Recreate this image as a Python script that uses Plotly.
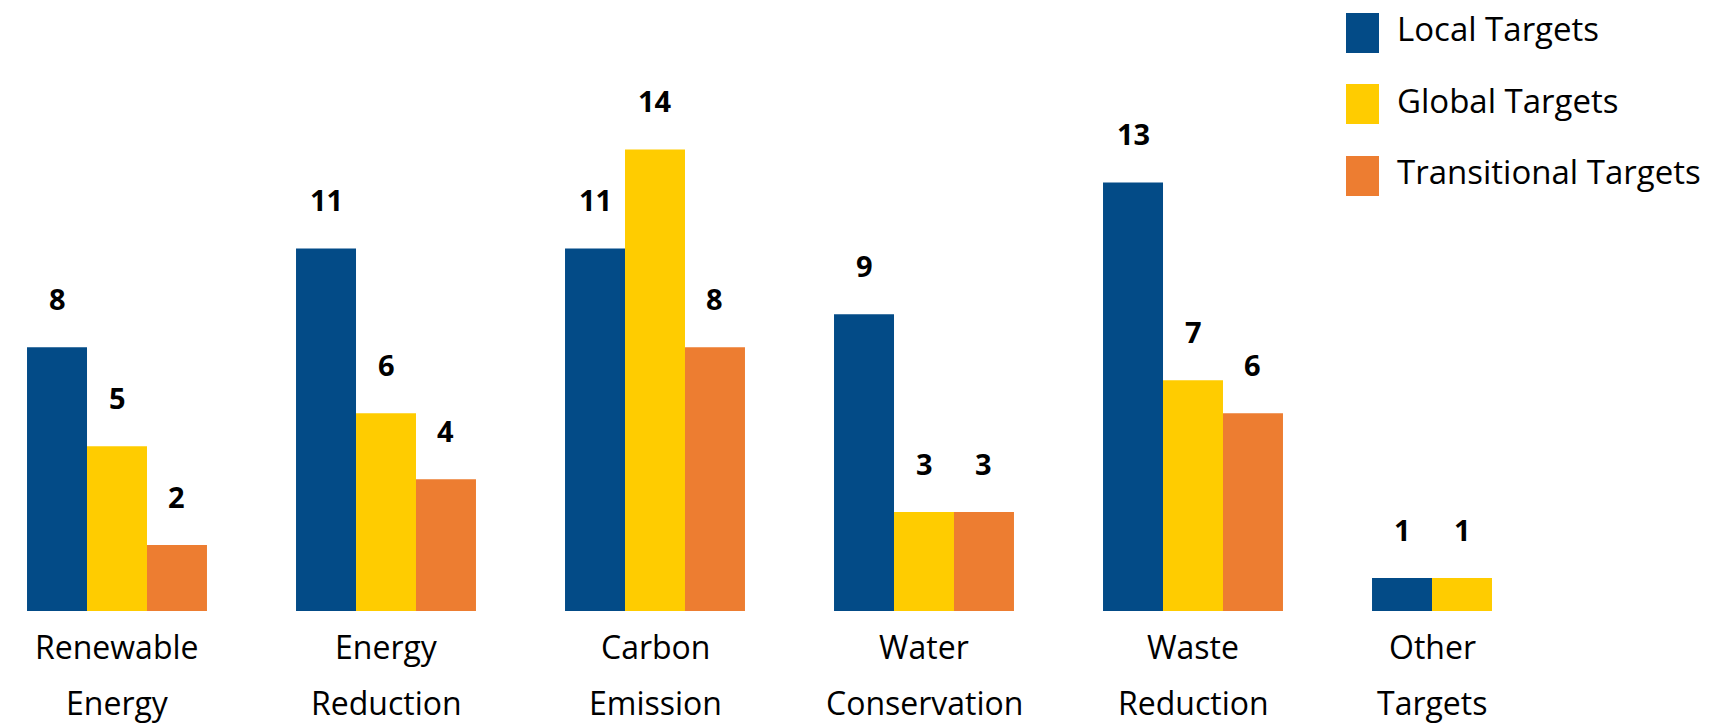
import plotly.graph_objects as go

categories = ["Renewable Energy", "Energy Reduction", "Carbon Emission",
              "Water Conservation", "Waste Reduction", "Other Targets"]
series_names = ["Local Targets", "Global Targets", "Transitional Targets"]
local_vals = [8, 11, 11, 9, 13, 1]
global_vals = [5, 6, 14, 3, 7, 1]
transitional_vals = [2, 4, 8, 3, 6, None]
colors = ["#034B87", "#FFCC00", "#ED7D31"]

W, H = 1717, 725
PLOT_H = 611
BARGAP = 0.331
FONT = "Open Sans"

series_vals = [local_vals, global_vals, transitional_vals]

fig = go.Figure()
for name, vals, col in zip(series_names, series_vals, colors):
    fig.add_trace(go.Bar(x=categories, y=vals, name=name, marker_color=col,
                         marker_line_width=0, showlegend=False))

bar_w = (1 - BARGAP) / len(series_vals)
annotations = []
# value labels
for i, vals in enumerate(series_vals):
    for j, v in enumerate(vals):
        if v is None:
            continue
        annotations.append(dict(x=j + (i - 1) * bar_w, y=v, xref="x", yref="y",
                                text=f"<b>{v}</b>", showarrow=False, yshift=49,
                                yanchor="middle", xanchor="center",
                                font=dict(family=FONT, size=29, color="#000")))
# category labels (two lines)
for j, cat in enumerate(categories):
    line1, line2 = cat.split(" ", 1)
    n_present = sum(1 for vals in series_vals if vals[j] is not None)
    shift_px = -30 if n_present < 3 else 0
    for k, txt in enumerate([line1, line2]):
        annotations.append(dict(x=j, y=0, xref="x", yref="y", text=txt,
                                showarrow=False, yanchor="middle", xanchor="center",
                                xshift=shift_px, yshift=-35 - 56 * k,
                                font=dict(family=FONT, size=32, color="#000")))

# manual legend
shapes = []
row_y = [33, 104, 176]
for name, col, py in zip(series_names, colors, row_y):
    shapes.append(dict(type="rect", xref="paper", yref="paper",
                       x0=1346 / W, x1=1379 / W,
                       y0=(PLOT_H - (py + 20)) / PLOT_H, y1=(PLOT_H - (py - 20)) / PLOT_H,
                       fillcolor=col, line_width=0))
    annotations.append(dict(x=1395 / W, y=(PLOT_H - py) / PLOT_H, xref="paper", yref="paper",
                            text=name, showarrow=False, xanchor="left", yanchor="middle",
                            yshift=4,
                            font=dict(family=FONT, size=33, color="#000")))

fig.update_layout(
    width=W, height=H,
    margin=dict(l=0, r=0, t=0, b=H - PLOT_H, pad=0),
    paper_bgcolor="white", plot_bgcolor="white",
    barmode="group", bargap=BARGAP, bargroupgap=0,
    xaxis=dict(type="category", range=[-117 / 269, -117 / 269 + W / 269],
               showticklabels=False, showgrid=False, zeroline=False, showline=False, ticks=""),
    yaxis=dict(range=[0, PLOT_H / 32.96], showticklabels=False, showgrid=False,
               zeroline=False, showline=False, ticks=""),
    annotations=annotations, shapes=shapes,
    font=dict(family=FONT),
)

fig.write_html("out.html")
